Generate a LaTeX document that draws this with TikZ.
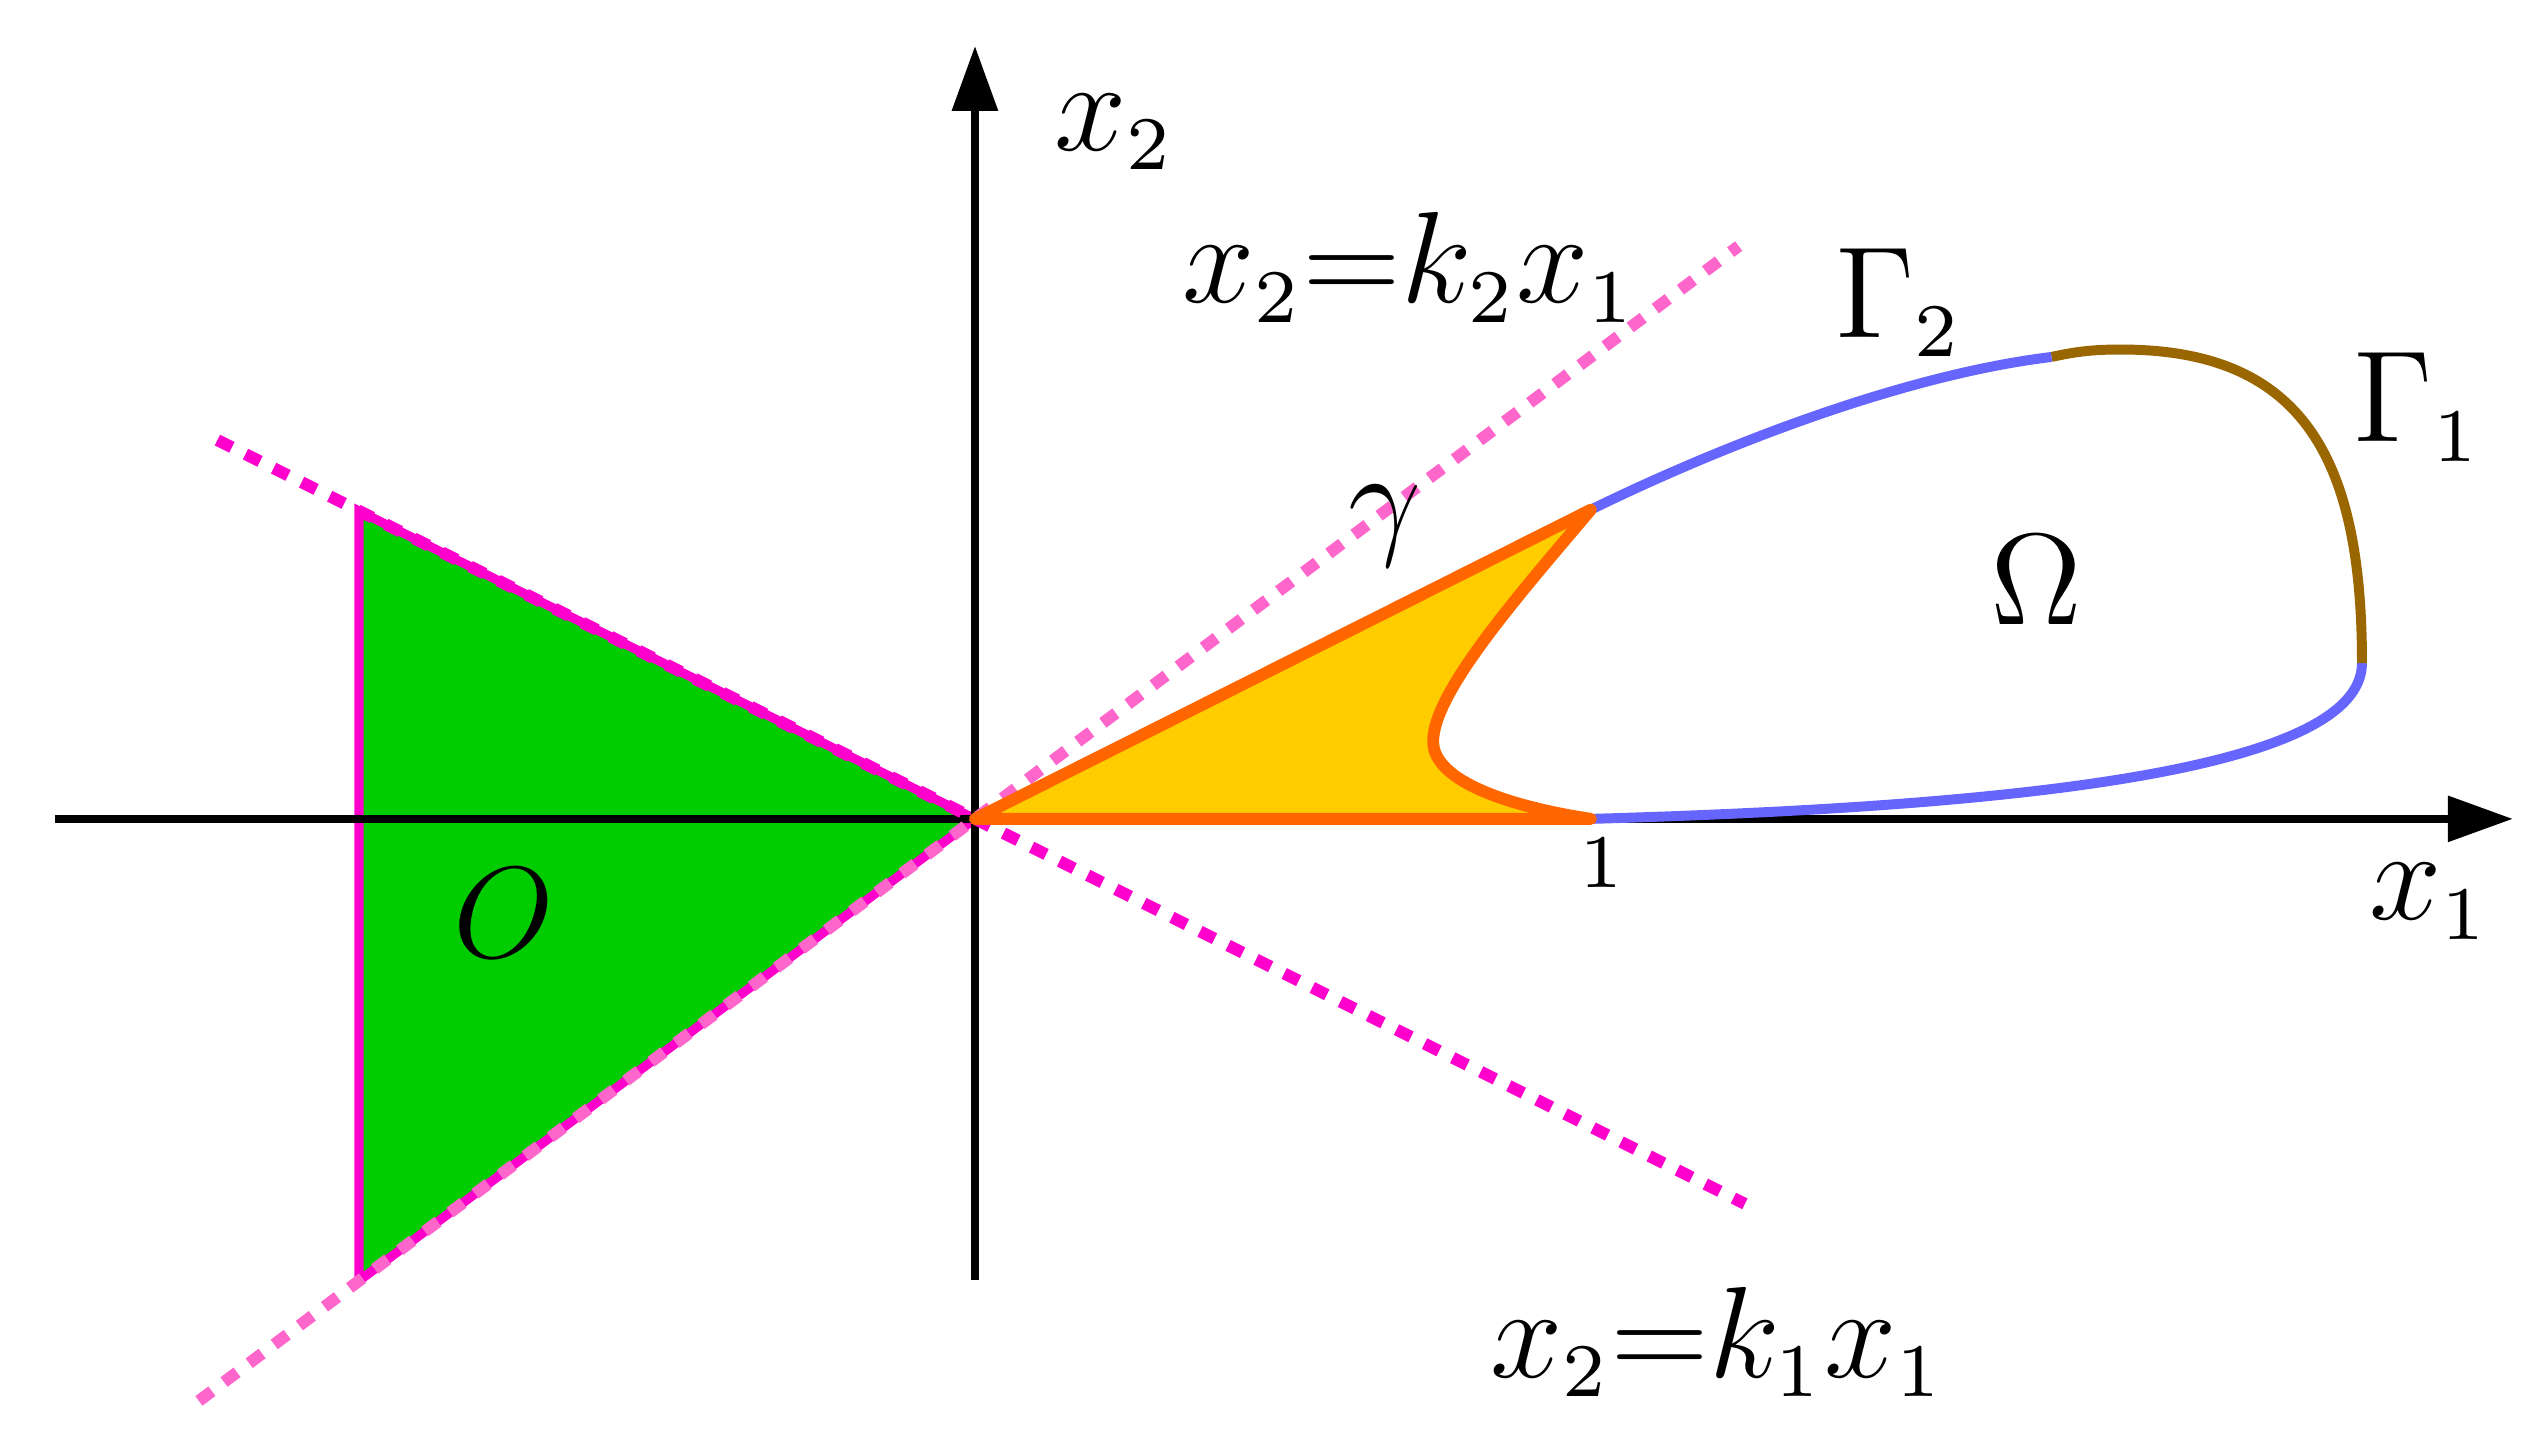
\documentclass[tikz,border=0pt]{standalone}
\usepackage{tikz}
\usetikzlibrary{arrows.meta}
\DeclareMathSizes{13}{13}{7}{5}
\definecolor{grn}{RGB}{0,204,0}
\definecolor{mag}{RGB}{255,0,204}
\definecolor{pnk}{RGB}{255,102,204}
\definecolor{org}{RGB}{255,102,0}
\definecolor{ylw}{RGB}{255,204,0}
\definecolor{blu}{RGB}{102,102,255}
\definecolor{brn}{RGB}{153,102,0}
\tikzstyle{axisline} = [line width=0.74pt, -{Triangle[length=6pt,width=4.1pt]}]
\tikzstyle{ray} = [line width=1.1pt, dash pattern=on 1.5pt off 1.4pt]
\tikzstyle{wedge} = [fill=grn, draw=mag, line width=0.85pt]
\tikzstyle{cusp} = [fill=ylw, draw=org, line width=1.1pt, line join=round]
\tikzstyle{bdry} = [line width=0.92pt]
\tikzstyle{lab} = [font=\fontsize{13}{15}\selectfont, inner sep=0pt]
\tikzstyle{ticklab} = [font=\fontsize{7}{8}\selectfont, inner sep=0pt]

\begin{document}
\begin{tikzpicture}[x=2cm, y=2cm]
	\useasboundingbox (-1.583,-1.0097) rectangle (2.554,1.3295);
	\coordinate (O) at (0,0);
	\coordinate (A) at (-1,0.5);
	\coordinate (B) at (-1,-0.75);
	\coordinate (C) at (1,0.502);
	\coordinate (D) at (1,0);
	\coordinate (E) at (2.252,0.253);
	\coordinate (F) at (1.748,0.75);
	\coordinate (xl) at (-1.494,0);
	\coordinate (xr) at (2.497,0);
	\coordinate (yb) at (0,-0.748);
	\coordinate (yt) at (0,1.255);
	\coordinate (k1a) at (-1.23,0.615);
	\coordinate (k1b) at (1.25,-0.625);
	\coordinate (k2a) at (-1.26,-0.945);
	\coordinate (k2b) at (1.24,0.93);

	% region O
	\draw [wedge] (O) -- (A) -- (B) -- cycle;
	% axes
	\draw [axisline] (xl) -- (xr);
	\draw [axisline] (yb) -- (yt);
	% the two rays
	\draw [ray, pnk] (k2a) -- (k2b);
	\draw [ray, mag] (k1a) -- (k1b);
	% boundary of Omega
	\draw [bdry, blu] (D) .. controls (1.7,0.02) and (2.252,0.08) .. (E);
	\draw [bdry, brn] (E) .. controls (2.252,0.58) and (2.16,0.765) .. (1.854,0.762)
		.. controls (1.81,0.762) and (1.78,0.757) .. (F);
	\draw [bdry, blu] (F) .. controls (1.5,0.72) and (1.2,0.6) .. (C);
	% region bounded by gamma
	\draw [cusp] (O) -- (C) .. controls (0.88,0.36) and (0.73,0.19) .. (0.745,0.115)
		.. controls (0.76,0.05) and (0.9,0.015) .. (D) -- cycle;

	\node (x2lab) [lab, anchor=base west] at (0.125,1.086) {$x_2$};
	\node (x1lab) [lab, anchor=base west] at (2.26,-0.164) {$x_1$};
	\node (one) [ticklab, anchor=base] at (1.016,-0.112) {1};
	\node (Olab) [lab] at (-0.765,-0.153) {$O$};
	\node (Omega) [lab] at (1.724,0.388) {$\Omega$};
	\node (G1) [lab, anchor=base west] at (2.235,0.612) {$\Gamma_1$};
	\node (G2) [lab, anchor=base west] at (1.393,0.782) {$\Gamma_2$};
	\node (gam) [lab] at (0.666,0.476) {$\gamma$};
	\node (k2lab) [lab, anchor=base] at (0.706,0.838) {$x_2{=}k_2x_1$};
	\node (k1lab) [lab, anchor=base] at (1.206,-0.907) {$x_2{=}k_1x_1$};
\end{tikzpicture}
\end{document}
